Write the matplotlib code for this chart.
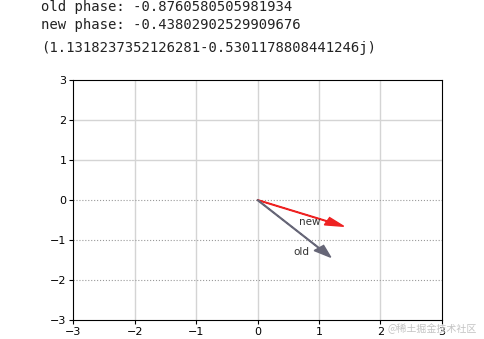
#Phase of two complex numbers drawn as arrows
import numpy as np
import matplotlib.pyplot as plt

#the two complex numbers
old = 1 - 1.2j
new = 1.1318237352126281 - 0.5301178808441246j

#printed output above the chart
out_lines = ["old phase: " + str(-0.8760580505981934),
             "new phase: " + str(-0.43802902529909676),
             "(1.1318237352126281-0.5301178808441246j)"]

ticks = [-3, -2, -1, 0, 1, 2, 3]
dotted_rows = [0, -1, -2] #these rows show as dotted lines
solid_rows = [1, 2]

fig = plt.figure(figsize=(4.84, 3.39), dpi=100)

#the notebook output text
fig.text(41/484, 1 - 11/339, out_lines[0], family='DejaVu Sans Mono', fontsize=10, color='#222222')
fig.text(41/484, 1 - 29/339, out_lines[1], family='DejaVu Sans Mono', fontsize=10, color='#222222')
fig.text(41/484, 1 - 52/339, out_lines[2], family='DejaVu Sans Mono', fontsize=10, color='#222222')

ax = fig.add_axes([73.3/484, 19/339, 368.4/484, 240/339])
ax.set_xlim(-3, 3)
ax.set_ylim(-3, 3)
ax.set_xticks(ticks)
ax.set_yticks(ticks)
ax.tick_params(labelsize=8, length=3, pad=2)

#grid lines
for x in ticks[1:-1]:
    ax.axvline(x, color='#d4d4d4', lw=1, zorder=0)
for y in solid_rows:
    ax.axhline(y, color='#d4d4d4', lw=1, zorder=0)
for y in dotted_rows:
    ax.axhline(y, color='#9a9a9a', lw=0.8, ls=':', zorder=0)

#the arrows
ax.arrow(0, 0, new.real, new.imag, width=0.015, head_width=0.2, head_length=0.3,
         color='#ee2222', zorder=3)
ax.arrow(0, 0, old.real, old.imag, width=0.015, head_width=0.2, head_length=0.3,
         color='#666677', zorder=3)
ax.text(0.68, -0.62, 'new', fontsize=7.5, color='#333333')
ax.text(0.59, -1.38, 'old', fontsize=7.5, color='#333333')

#watermark
fig.text(388/484, 1 - 332/339, '@稀土掘金技术社区', family=['Noto Sans CJK SC', 'DejaVu Sans'],
         fontsize=7.2, color='#c4c4c4')

fig.savefig('out.png', dpi=100)
